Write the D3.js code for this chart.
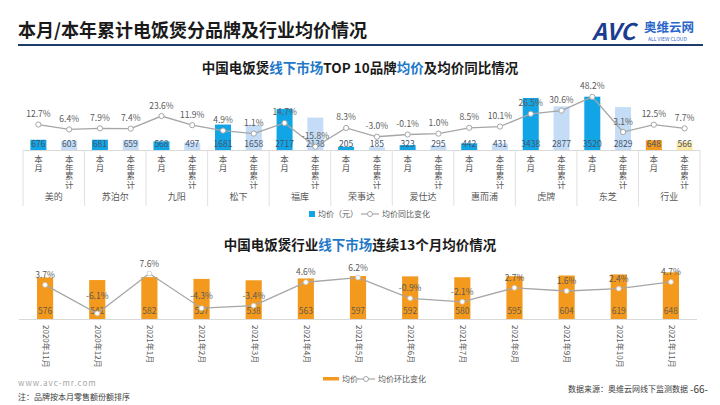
<!DOCTYPE html>
<html><head><meta charset="utf-8">
<script src="https://cdn.jsdelivr.net/npm/d3@7"></script>
<style>
body{margin:0;background:#fff;}
text{font-family:"Noto Sans CJK SC","Noto Sans",sans-serif;}
.vt{writing-mode:vertical-rl;text-orientation:upright;}
</style></head>
<body>
<svg id="c" width="720" height="405"></svg>
<script>
// ---------- data ----------
const brands = ['美的','苏泊尔','九阳','松下','福库','荣事达','爱仕达','惠而浦','虎牌','东芝','行业'];
const periods = ['本月','本年累计'];
const monthPrice = [676, 681, 568, 1681, 2717, 205, 323, 442, 3438, 3520, 648];
const ytdPrice   = [603, 659, 497, 1658, 2138, 185, 295, 431, 2877, 2829, 566];
const monthYoY   = [12.7, 7.9, 23.6, 4.9, 14.7, 8.3, -0.1, 8.5, 26.5, 48.2, 12.5];
const ytdYoY     = [6.4, 7.4, 11.9, 1.1, -15.8, -3.0, 1.0, 10.1, 30.6, 3.1, 7.7];

const months = ['2020年11月','2020年12月','2021年1月','2021年2月','2021年3月','2021年4月','2021年5月','2021年6月','2021年7月','2021年8月','2021年9月','2021年10月','2021年11月'];
const avgPrice = [576, 541, 582, 557, 538, 563, 597, 592, 580, 595, 604, 619, 648];
const momChange = [3.7, -6.1, 7.6, -4.3, -3.4, 4.6, 6.2, -0.9, -2.1, 2.7, 1.6, 2.4, 4.7];

// ---------- setup ----------
const svg = d3.select('#c');
const BLUE='#12a5e6', LBLUE='#c4dcf5', ORANGE='#f39a1e', LYEL='#fee7a0', LINE='#a6a6a6', TXT='#595959', TITLEBLUE='#1f78c8';

// header
svg.append('text').attr('x',18).attr('y',37).attr('font-size',18).attr('font-weight','bold').attr('fill','#1a1a1a')
  .text('本月/本年累计电饭煲分品牌及行业均价情况');
svg.append('line').attr('x1',18).attr('x2',703).attr('y1',45).attr('y2',45).attr('stroke','#1f3d6b').attr('stroke-width',2);
// logo
svg.append('text').attr('x',592).attr('y',40).attr('font-size',23).attr('font-weight','bold').attr('font-style','italic')
  .attr('fill','#1b3c8f').attr('font-family','Liberation Sans, sans-serif').text('AVC');
svg.append('text').attr('x',644).attr('y',32).attr('font-size',12.5).attr('font-weight','bold').attr('fill','#2a66c9').text('奥维云网');
svg.append('text').attr('x',648).attr('y',41).attr('font-size',5).attr('fill','#2a66c9').text('ALL VIEW CLOUD');

// ---------- top chart ----------
const t1 = svg.append('text').attr('x',360).attr('y',73).attr('text-anchor','middle').attr('font-size',13.5).attr('font-weight','bold').attr('fill','#1a1a1a');
t1.append('tspan').text('中国电饭煲');
t1.append('tspan').attr('fill',TITLEBLUE).text('线下市场');
t1.append('tspan').text('TOP 10品牌');
t1.append('tspan').attr('fill',TITLEBLUE).text('均价');
t1.append('tspan').text('及均价同比情况');

const x0 = d3.scaleBand().domain(brands).range([23,700]).padding(0);
const x1 = d3.scaleBand().domain(periods).range([0,x0.bandwidth()]).paddingInner(0.48).paddingOuter(0.24);
const yBar = d3.scaleLinear().domain([0,3600]).range([150,95.5]);
const yPct = d3.scaleLinear().domain([-20,50]).range([150,95.5]);

const topRows = [];
brands.forEach((b,i)=>{
  topRows.push({b, p:'本月', v:monthPrice[i], c:monthYoY[i]});
  topRows.push({b, p:'本年累计', v:ytdPrice[i], c:ytdYoY[i]});
});
const cx = d => x0(d.b)+x1(d.p)+x1.bandwidth()/2;
const barColor = d => d.b==='行业' ? (d.p==='本月'?ORANGE:LYEL) : (d.p==='本月'?BLUE:LBLUE);

const gTop = svg.append('g');
gTop.selectAll('rect.bar').data(topRows).join('rect').attr('class','bar')
  .attr('x',d=>x0(d.b)+x1(d.p)).attr('width',x1.bandwidth())
  .attr('y',d=>yBar(d.v)).attr('height',d=>yBar(0)-yBar(d.v)).attr('fill',barColor);
gTop.append('line').attr('x1',23).attr('x2',700).attr('y1',150.5).attr('y2',150.5).attr('stroke','#d9d9d9');
brands.concat(['__end']).forEach((b,i)=>{
  const xx = i<brands.length ? x0(b) : x0.range()[1];
  gTop.append('line').attr('x1',xx).attr('x2',xx).attr('y1',150).attr('y2',206).attr('stroke','#e0e0e0');
});
gTop.selectAll('text.bv').data(topRows).join('text').attr('class','bv')
  .attr('x',cx).attr('y',147).attr('text-anchor','middle').attr('font-size',8.5).attr('fill','#44546a').text(d=>d.v);
gTop.append('path').datum(topRows).attr('fill','none').attr('stroke',LINE).attr('stroke-width',1.3)
  .attr('d',d3.line().x(cx).y(d=>yPct(d.c)));
gTop.selectAll('circle').data(topRows).join('circle').attr('cx',cx).attr('cy',d=>yPct(d.c)).attr('r',2.6)
  .attr('fill','#fff').attr('stroke',LINE).attr('stroke-width',1);
gTop.selectAll('text.pl').data(topRows).join('text').attr('class','pl')
  .attr('x',cx).attr('y',d=>yPct(d.c)-7.5).attr('text-anchor','middle').attr('font-size',8.5).attr('fill',TXT)
  .text(d=>d.c.toFixed(1)+'%');
// period labels (vertical)
gTop.selectAll('text.pd').data(topRows).join('text').attr('class','pd vt')
  .attr('x',cx).attr('y',155).attr('font-size',8.5).attr('fill',TXT).text(d=>d.p);
gTop.selectAll('text.gl').data(brands).join('text').attr('class','gl')
  .attr('x',b=>x0(b)+x0.bandwidth()/2).attr('y',200).attr('text-anchor','middle').attr('font-size',9).attr('fill',TXT).text(b=>b);
// legend
const lg1 = svg.append('g').attr('transform','translate(309,217)');
lg1.append('rect').attr('x',0).attr('y',-6).attr('width',6).attr('height',6).attr('fill',BLUE);
lg1.append('text').attr('x',9).attr('y',0).attr('font-size',8).attr('fill',TXT).text('均价（元）');
lg1.append('line').attr('x1',52).attr('x2',70).attr('y1',-3).attr('y2',-3).attr('stroke',LINE).attr('stroke-width',1.2);
lg1.append('circle').attr('cx',61).attr('cy',-3).attr('r',2.5).attr('fill','#fff').attr('stroke',LINE);
lg1.append('text').attr('x',73).attr('y',0).attr('font-size',8).attr('fill',TXT).text('均价同比变化');

// ---------- bottom chart ----------
const t2 = svg.append('text').attr('x',360).attr('y',250).attr('text-anchor','middle').attr('font-size',13.5).attr('font-weight','bold').attr('fill','#1a1a1a');
t2.append('tspan').text('中国电饭煲行业');
t2.append('tspan').attr('fill',TITLEBLUE).text('线下市场');
t2.append('tspan').text('连续13个月均价情况');

const xb = d3.scaleBand().domain(months).range([19,697]).paddingInner(0.69).paddingOuter(0.345);
const yB = d3.scaleLinear().domain([0,700]).range([319,268.6]);
const yM = d3.scaleLinear().domain([-8,10]).range([319,266.5]);
const bRows = months.map((m,i)=>({m, v:avgPrice[i], c:momChange[i]}));
const bcx = d => xb(d.m)+xb.bandwidth()/2;

const gB = svg.append('g');
gB.selectAll('rect').data(bRows).join('rect').attr('x',d=>xb(d.m)).attr('width',xb.bandwidth())
  .attr('y',d=>yB(d.v)).attr('height',d=>yB(0)-yB(d.v)).attr('fill',ORANGE);
gB.append('line').attr('x1',19).attr('x2',697).attr('y1',319.5).attr('y2',319.5).attr('stroke','#d9d9d9');
gB.selectAll('text.bv').data(bRows).join('text').attr('class','bv').attr('x',bcx).attr('y',314)
  .attr('text-anchor','middle').attr('font-size',8.5).attr('fill','#6b5a45').text(d=>d.v);
gB.append('path').datum(bRows).attr('fill','none').attr('stroke',LINE).attr('stroke-width',1.3)
  .attr('d',d3.line().x(bcx).y(d=>yM(d.c)));
gB.selectAll('circle').data(bRows).join('circle').attr('cx',bcx).attr('cy',d=>yM(d.c)).attr('r',2.4)
  .attr('fill','#fff').attr('stroke','#c8c8c8').attr('stroke-width',0.8);
gB.selectAll('text.pl').data(bRows).join('text').attr('class','pl').attr('x',bcx).attr('y',d=>Math.min(yM(d.c)-7,299))
  .attr('text-anchor','middle').attr('font-size',8.5).attr('fill',TXT).text(d=>d.c.toFixed(1)+'%');
gB.selectAll('text.xl').data(bRows).join('text').attr('class','xl')
  .attr('transform',d=>`translate(${bcx(d)},325) rotate(90)`).attr('dominant-baseline','middle')
  .attr('font-size',8).attr('fill',TXT).text(d=>d.m);
// legend
const lg2 = svg.append('g').attr('transform','translate(323,382)');
lg2.append('rect').attr('x',0).attr('y',-5).attr('width',16).attr('height',3.5).attr('fill',ORANGE);
lg2.append('text').attr('x',19).attr('y',0).attr('font-size',8).attr('fill',TXT).text('均价');
lg2.append('line').attr('x1',34).attr('x2',52).attr('y1',-3).attr('y2',-3).attr('stroke',LINE).attr('stroke-width',1.2);
lg2.append('circle').attr('cx',43).attr('cy',-3).attr('r',2.5).attr('fill','#fff').attr('stroke',LINE);
lg2.append('text').attr('x',55).attr('y',0).attr('font-size',8).attr('fill',TXT).text('均价环比变化');

// footer
svg.append('text').attr('x',18).attr('y',386).attr('font-size',8).attr('fill','#a6a6a6').attr('letter-spacing',1).text('www.avc-mr.com');
svg.append('text').attr('x',18).attr('y',400).attr('font-size',8).attr('fill','#404040').text('注：品牌按本月零售额份额排序');
svg.append('text').attr('x',688).attr('y',392).attr('text-anchor','end').attr('font-size',8).attr('fill','#404040').text('数据来源：奥维云网线下监测数据');
svg.append('text').attr('x',690).attr('y',393).attr('font-size',10).attr('fill','#404040').text('-66-');
</script>
</body></html>
